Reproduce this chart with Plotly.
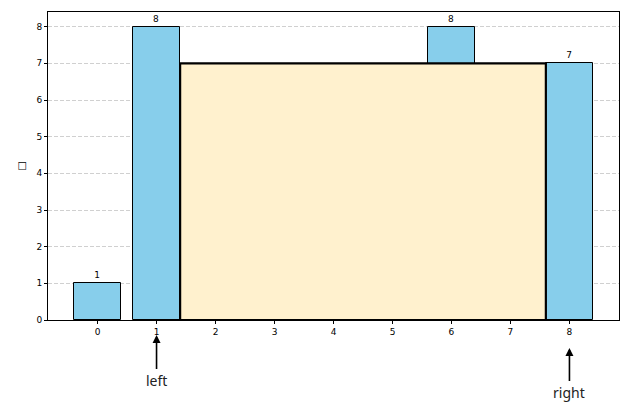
import plotly.graph_objects as go

heights = [1, 8, 6, 2, 5, 4, 8, 3, 7]
indices = list(range(len(heights)))
left_idx = 1
right_idx = 8
bar_width = 0.8
water_level = min(heights[left_idx], heights[right_idx])
y_ticks = list(range(0, 9))
ylabel = "□"

fig = go.Figure()
fig.add_trace(go.Bar(
    x=indices, y=heights, width=bar_width,
    marker=dict(color="#87CEEB", line=dict(color="black", width=1)),
    text=[str(h) for h in heights], textposition="outside",
    textfont=dict(size=9, color="black", family="DejaVu Sans"),
    cliponaxis=False,
))

fig.add_shape(
    type="rect", xref="x", yref="y", layer="above",
    x0=left_idx + bar_width / 2, x1=right_idx - bar_width / 2,
    y0=0, y1=water_level,
    fillcolor="#FFF1CE", line=dict(color="black", width=2.2),
)

for idx, label, ypos, off in [(left_idx, "left", -0.049, 45), (right_idx, "right", -0.091, 44)]:
    fig.add_annotation(
        x=idx, xref="x", y=ypos, yref="paper",
        text=label, showarrow=True, ax=0, ay=off,
        arrowhead=2, arrowsize=1, arrowwidth=1.6, arrowcolor="black",
        font=dict(size=14, color="#222", family="Noto Sans"),
    )

fig.update_layout(
    width=643, height=402,
    margin=dict(l=40, r=32, t=4, b=90, autoexpand=False),
    plot_bgcolor="white", paper_bgcolor="white",
    showlegend=False,
    font=dict(family="DejaVu Sans", size=9, color="black"),
    bargap=0,
)
fig.update_xaxes(
    range=[-0.84, 8.84], tickvals=indices, ticktext=[str(i) for i in indices],
    showgrid=False, showline=True, linecolor="black", linewidth=1, mirror=True,
    ticks="outside", ticklen=3, tickcolor="black", zeroline=False, automargin=False,
)
fig.update_yaxes(
    range=[0, 8.4], tickvals=y_ticks,
    showgrid=True, gridcolor="#d0d0d0", griddash="4px,2px", gridwidth=0.8,
    showline=True, linecolor="black", linewidth=1, mirror=True,
    ticks="outside", ticklen=3, tickcolor="black", zeroline=False, automargin=False,
    title=dict(text=ylabel, font=dict(size=10, color="black", family="DejaVu Sans"), standoff=8),
)

fig.write_html("out.html")
